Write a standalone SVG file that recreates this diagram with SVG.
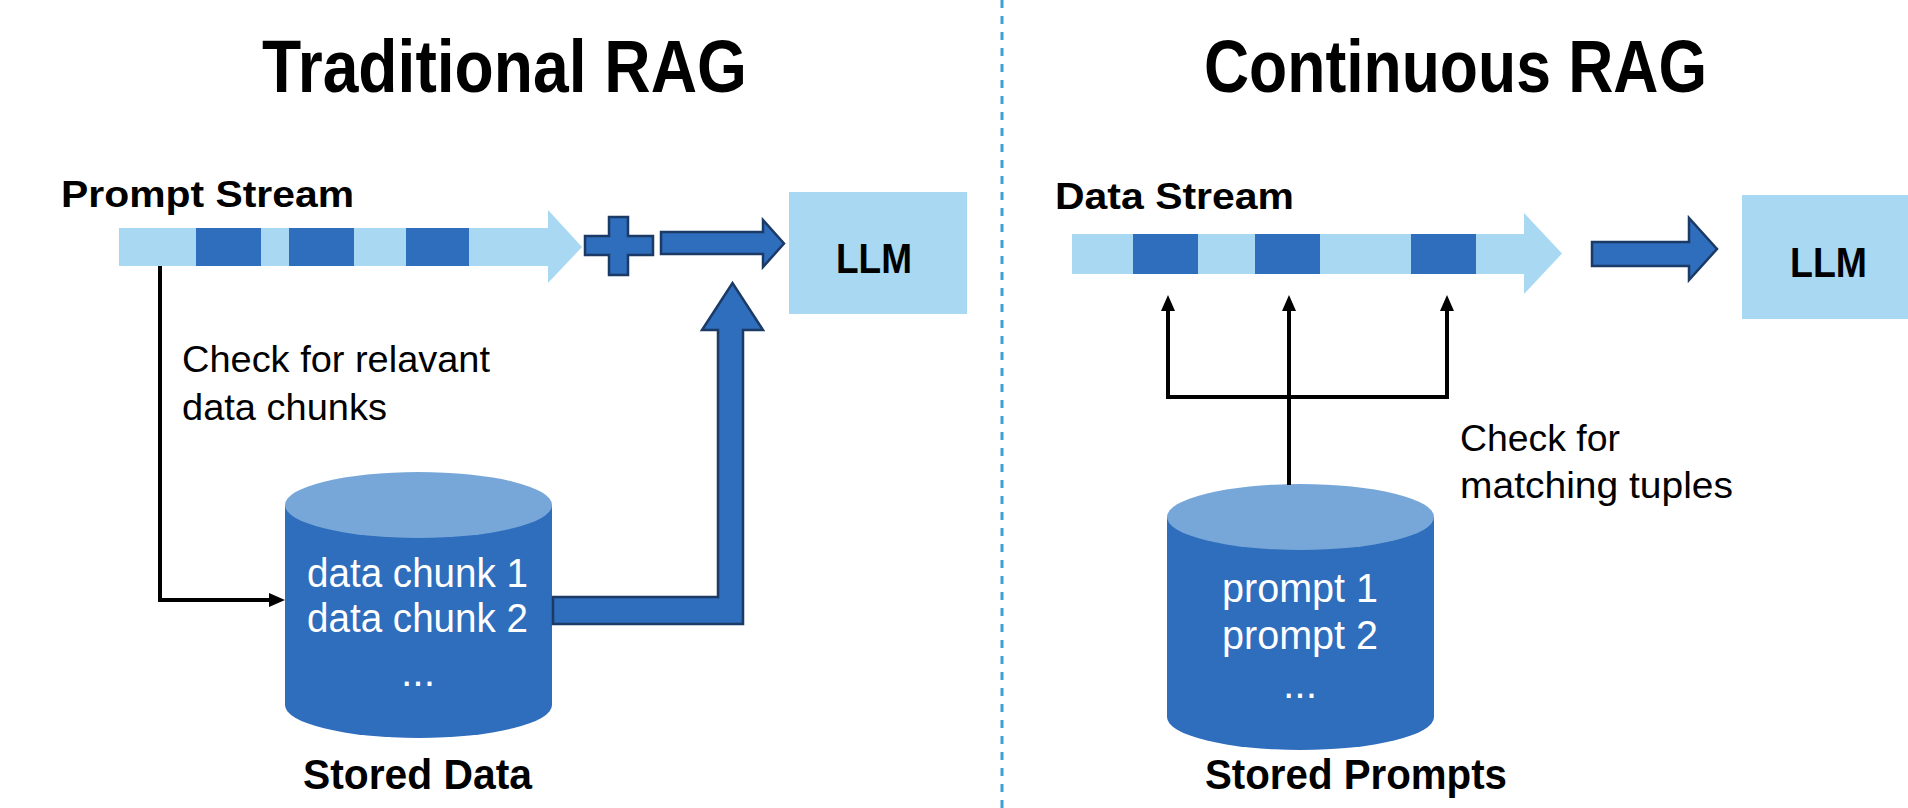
<svg xmlns="http://www.w3.org/2000/svg" width="1908" height="808" viewBox="0 0 1908 808">
<style>
  text { font-family: "Liberation Sans", Arial, sans-serif; fill: #000; }
  .title { font-size: 74px; font-weight: 700; }
  .label { font-size: 37px; font-weight: 700; }
  .llm { font-size: 43px; font-weight: 700; }
  .note { font-size: 36px; }
  .cyl-text { font-size: 41px; fill: #fff; }
  .store { font-size: 43px; font-weight: 700; }
  .stream { fill: #a8d8f2; }
  .chunk { fill: #2f6dbd; }
  .llm-box { fill: #a8d8f2; }
  .block { fill: #2f6dbd; stroke: #1b3a66; stroke-width: 2.5; stroke-linejoin: miter; }
  .cyl-body { fill: #2f6dbd; }
  .cyl-top { fill: #77a7d8; }
  .conn { fill: none; stroke: #000; stroke-width: 4; }
</style>
<defs>
  <marker id="arr" viewBox="0 0 16 14" refX="4" refY="7" markerWidth="16" markerHeight="14" markerUnits="userSpaceOnUse" orient="auto">
    <path d="M0 0 L16 7 L0 14 Z" fill="#000"/>
  </marker>
</defs>
<rect width="1908" height="808" fill="#fff"/>

<line id="divider" x1="1002" y1="0" x2="1002" y2="808" stroke="#3e9fd4" stroke-width="3" stroke-dasharray="8 8"/>

<g id="titles">
  <text class="title" x="262" y="92" textLength="485" lengthAdjust="spacingAndGlyphs">Traditional RAG</text>
  <text class="title" x="1204" y="92" textLength="503" lengthAdjust="spacingAndGlyphs">Continuous RAG</text>
</g>

<!-- Left panel -->
<g id="prompt-stream">
  <text class="label" x="61" y="207" textLength="293" lengthAdjust="spacingAndGlyphs">Prompt Stream</text>
  <path class="stream" d="M119 228 H548 V210 L582 247 L548 283 V266 H119 Z"/>
  <rect class="chunk" x="196" y="228" width="65" height="38"/>
  <rect class="chunk" x="289" y="228" width="65" height="38"/>
  <rect class="chunk" x="406" y="228" width="63" height="38"/>
</g>

<g id="plus">
  <path class="block" d="M609 217 H628 V236 H653 V255 H628 V275 H609 V255 H585 V236 H609 Z"/>
</g>

<g id="llm-left">
  <rect class="llm-box" x="789" y="192" width="178" height="122"/>
  <text class="llm" x="836" y="273" textLength="76" lengthAdjust="spacingAndGlyphs">LLM</text>
</g>

<g id="check-relevant">
  <text class="note" x="182" y="372" textLength="308" lengthAdjust="spacingAndGlyphs">Check for relavant</text>
  <text class="note" x="182" y="420" textLength="205" lengthAdjust="spacingAndGlyphs">data chunks</text>
</g>

<g id="stored-data">
  <path class="cyl-body" d="M285 505 V705 A133.5 33 0 0 0 552 705 V505 Z"/>
  <ellipse class="cyl-top" cx="418.5" cy="505" rx="133.5" ry="33"/>
  <text class="cyl-text" x="307" y="587" textLength="221" lengthAdjust="spacingAndGlyphs">data chunk 1</text>
  <text class="cyl-text" x="307" y="632" textLength="221" lengthAdjust="spacingAndGlyphs">data chunk 2</text>
  <text class="cyl-text" x="418" y="686" text-anchor="middle">...</text>
  <text class="store" x="303" y="789" textLength="229" lengthAdjust="spacingAndGlyphs">Stored Data</text>
</g>

<!-- Right panel -->
<g id="data-stream">
  <text class="label" x="1055" y="209" textLength="239" lengthAdjust="spacingAndGlyphs">Data Stream</text>
  <path class="stream" d="M1072 234 H1524 V213 L1562 253.5 L1524 294 V274 H1072 Z"/>
  <rect class="chunk" x="1133" y="234" width="65" height="40"/>
  <rect class="chunk" x="1255" y="234" width="65" height="40"/>
  <rect class="chunk" x="1411" y="234" width="65" height="40"/>
</g>

<g id="llm-right">
  <rect class="llm-box" x="1742" y="195" width="166" height="124"/>
  <text class="llm" x="1790" y="277" textLength="77" lengthAdjust="spacingAndGlyphs">LLM</text>
</g>

<g id="check-matching">
  <text class="note" x="1460" y="451" textLength="160" lengthAdjust="spacingAndGlyphs">Check for</text>
  <text class="note" x="1460" y="498" textLength="273" lengthAdjust="spacingAndGlyphs">matching tuples</text>
</g>

<g id="stored-prompts">
  <path class="cyl-body" d="M1167 517 V717 A133.5 33 0 0 0 1434 717 V517 Z"/>
  <ellipse class="cyl-top" cx="1300.5" cy="517" rx="133.5" ry="33"/>
  <text class="cyl-text" x="1222" y="602" textLength="156" lengthAdjust="spacingAndGlyphs">prompt 1</text>
  <text class="cyl-text" x="1222" y="649" textLength="156" lengthAdjust="spacingAndGlyphs">prompt 2</text>
  <text class="cyl-text" x="1300" y="698" text-anchor="middle">...</text>
  <text class="store" x="1205" y="789" textLength="302" lengthAdjust="spacingAndGlyphs">Stored Prompts</text>
</g>

<g id="connectors">
  <!-- left: prompt stream to stored data -->
  <path class="conn" d="M160 266 V600 H273" marker-end="url(#arr)"/>
  <!-- left: stored data to LLM (thick) -->
  <path class="block" d="M553 597 H718 V330 H702 L732.5 283 L763 330 H743 V624 H553 Z"/>
  <!-- left: plus to LLM -->
  <path class="block" d="M661 232 H763 V220 L784 243.5 L763 267 V254 H661 Z"/>
  <!-- right: stored prompts to data stream -->
  <path class="conn" d="M1289 485 V307" marker-end="url(#arr)"/>
  <path class="conn" d="M1168 397 V307" marker-end="url(#arr)"/>
  <path class="conn" d="M1447 397 V307" marker-end="url(#arr)"/>
  <path class="conn" d="M1166 397 H1449"/>
  <!-- right: stream to LLM -->
  <path class="block" d="M1592 242 H1689 V218 L1717 249 L1689 280 V266 H1592 Z"/>
</g>
</svg>
